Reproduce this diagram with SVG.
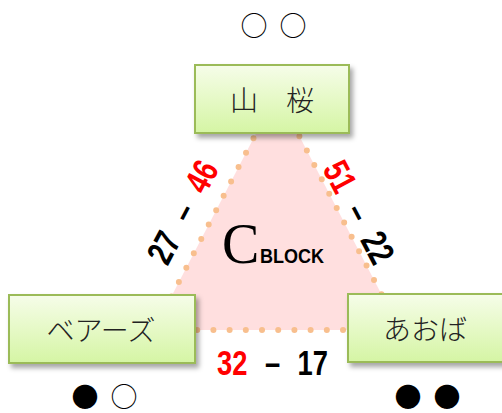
<svg xmlns="http://www.w3.org/2000/svg" width="502" height="413" viewBox="0 0 502 413">
<defs>
<linearGradient id="boxg" x1="0" y1="0" x2="0" y2="1">
<stop offset="0" stop-color="#f6fde9"/>
<stop offset="1" stop-color="#d5f5a4"/>
</linearGradient>
<filter id="sh" x="-10%" y="-10%" width="125%" height="140%">
<feDropShadow dx="3" dy="4" stdDeviation="2.5" flood-color="#000" flood-opacity="0.35"/>
</filter>
<style>
.box{fill:url(#boxg);stroke:#9bbb59;stroke-width:2;filter:url(#sh)}
.jp{font-family:"Noto Sans CJK JP","Noto Sans CJK SC",sans-serif;font-size:28px;fill:#222;font-weight:300;text-anchor:middle;dominant-baseline:central}
.mark{font-family:"Noto Sans CJK JP","DejaVu Sans",sans-serif;font-size:27px;fill:#000;text-anchor:start;dominant-baseline:central}
.sc{font-family:"Liberation Sans",Arial,sans-serif;font-weight:bold;font-size:36px;fill:#000;text-anchor:middle}
.red{fill:#ff0000}
.edge{fill:#ffdcdc;fill-opacity:0.9;stroke:#f8bf8e;stroke-width:6;stroke-linecap:round;stroke-dasharray:0 16.2}
</style>
</defs>
<rect width="502" height="413" fill="#fff"/>
<g id="connectors">
<path class="edge" d="M277,93 L400,330 L154,330 Z"/>
</g>
<g id="title">
<text x="222" y="263" font-family="Liberation Serif,serif" font-size="56" fill="#000">C</text>
<text x="260" y="263" font-family="Liberation Sans,Arial,sans-serif" font-weight="bold" font-size="21" textLength="64" lengthAdjust="spacingAndGlyphs" fill="#000">BLOCK</text>
</g>
<g id="node-yamazakura">
<rect class="box" x="195" y="65" width="154" height="68"/>
<text class="jp" x="272" y="99">山　桜</text>
<text class="mark" y="24"><tspan x="240.5">○ </tspan><tspan x="279.5">○</tspan></text>
</g>
<g id="node-bears">
<rect class="box" x="9" y="295" width="186" height="68"/>
<text class="jp" x="101" y="329">ベアーズ</text>
<text class="mark" y="394.5"><tspan x="71.5">● </tspan><tspan x="110.5">○</tspan></text>
</g>
<g id="node-aoba">
<rect class="box" x="348" y="294" width="160" height="68"/>
<text class="jp" x="425" y="328">あおば</text>
<text class="mark" y="394.5"><tspan x="394.5">● </tspan><tspan x="433.5">●</tspan></text>
</g>
<g id="score-left" transform="translate(182.5,212) rotate(-62)">
<g transform="scale(0.76,1)">
<text class="sc" y="12.5"><tspan x="-53">27</tspan><tspan x="0"> – </tspan><tspan x="53" class="red">46</tspan></text>
</g>
</g>
<g id="score-right" transform="translate(359,212) rotate(62)">
<g transform="scale(0.76,1)">
<text class="sc" y="12.5"><tspan x="-53" class="red">51</tspan><tspan x="0"> – </tspan><tspan x="53">22</tspan></text>
</g>
</g>
<g id="score-bottom" transform="translate(272.5,362.5)">
<g transform="scale(0.76,1)">
<text class="sc" y="12.5"><tspan x="-53" class="red">32</tspan><tspan x="0"> – </tspan><tspan x="53">17</tspan></text>
</g>
</g>
</svg>
